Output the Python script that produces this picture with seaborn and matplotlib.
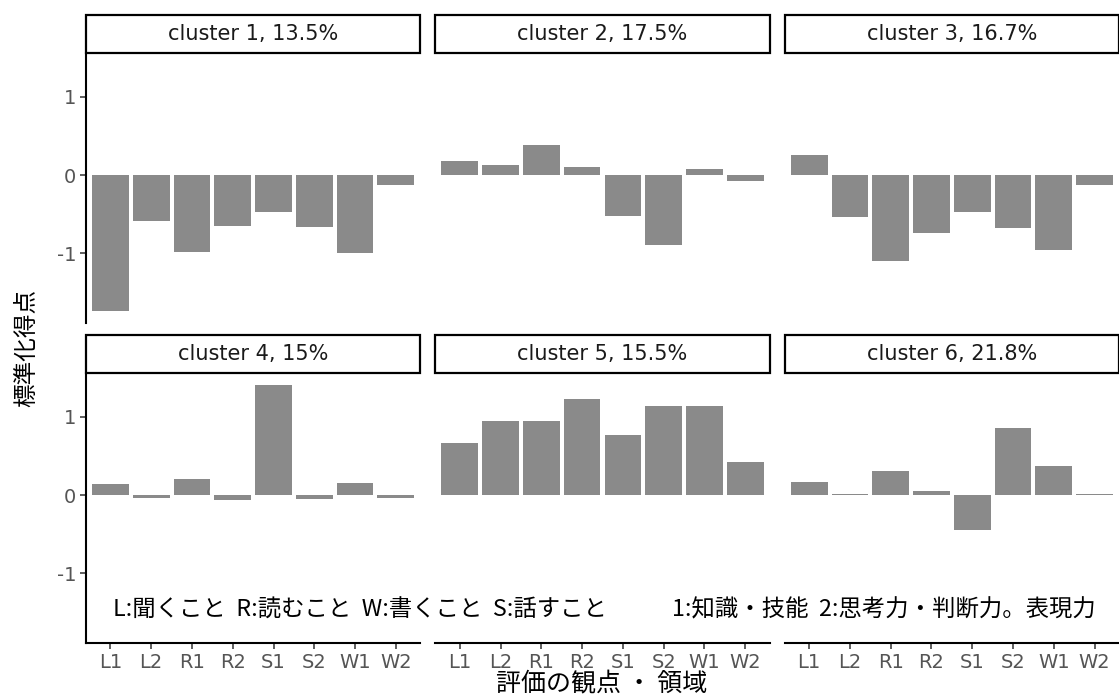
import matplotlib
matplotlib.use("Agg")
import matplotlib.pyplot as plt
from matplotlib.patches import Rectangle
import pandas as pd
import seaborn as sns

# Assessment items (skill area + viewpoint)
items = ["L1", "L2", "R1", "R2", "S1", "S2", "W1", "W2"]

# Cluster facet labels (cluster number, share of students)
cluster_labels = [
    "cluster 1, 13.5%", "cluster 2, 17.5%", "cluster 3, 16.7%",
    "cluster 4, 15%", "cluster 5, 15.5%", "cluster 6, 21.8%",
]

# Standardized mean score of each cluster per item
cluster1 = [-1.73, -0.58, -0.98, -0.65, -0.47, -0.66, -1.00, -0.13]
cluster2 = [0.18, 0.13, 0.38, 0.10, -0.52, -0.89, 0.08, -0.08]
cluster3 = [0.25, -0.53, -1.09, -0.74, -0.47, -0.67, -0.96, -0.13]
cluster4 = [0.14, -0.04, 0.21, -0.06, 1.40, -0.05, 0.15, -0.04]
cluster5 = [0.67, 0.95, 0.95, 1.23, 0.77, 1.14, 1.14, 0.42]
cluster6 = [0.17, 0.01, 0.31, 0.05, -0.45, 0.86, 0.37, 0.01]

y_ticks = [-1, 0, 1]

legend_areas = "L:聞くこと  R:読むこと  W:書くこと  S:話すこと"
legend_views = "1:知識・技能  2:思考力・判断力。表現力"
x_title = "評価の観点 ・ 領域"
y_title = "標準化得点"

series = [cluster1, cluster2, cluster3, cluster4, cluster5, cluster6]
rows = []
for label, vals in zip(cluster_labels, series):
    for it, v in zip(items, vals):
        rows.append({"cluster": label, "item": it, "score": v})
df = pd.DataFrame(rows)

sns.set_style("white")
plt.rcParams["font.family"] = ["DejaVu Sans", "Noto Sans CJK JP"]
JP = ["Noto Sans CJK JP", "DejaVu Sans"]

g = sns.catplot(
    data=df, x="item", y="score", col="cluster", col_wrap=3,
    col_order=cluster_labels, order=items, kind="bar",
    color="#8a8a8a", saturation=1, width=0.9, errorbar=None,
    height=3, aspect=1.2, sharex=True, sharey=True,
)
fig = g.figure
fig.set_size_inches(11.19, 7.0)
fig.subplots_adjust(left=86 / 1119, right=1.0, top=1 - 53 / 700,
                    bottom=1 - 643 / 700, wspace=0.045, hspace=0.185)
g.set_titles("")
g.set_axis_labels("", "")

axes = g.axes.flatten()
vals_all = [v for s in series for v in s]
lo, hi = min(vals_all), max(vals_all)
pad = 0.05 * (hi - lo)
for i, ax in enumerate(axes):
    row, col = divmod(i, 3)
    ax.set_ylim(lo - pad, hi + pad)
    ax.set_xlim(-0.6, len(items) - 0.4)
    ax.set_yticks(y_ticks)
    ax.set_yticklabels([str(t) for t in y_ticks])
    for p in ax.patches:
        p.set_edgecolor("none")
    for s in ["top", "right"]:
        ax.spines[s].set_visible(False)
    ax.spines["left"].set_visible(col == 0)
    ax.spines["bottom"].set_visible(row == 1)
    for s in ["left", "bottom"]:
        ax.spines[s].set_linewidth(1.5)
        ax.spines[s].set_color("black")
    ax.tick_params(axis="y", left=(col == 0), labelleft=(col == 0),
                   length=4, width=1.1, color="#333333",
                   labelsize=14, labelcolor="#555555", pad=3)
    ax.tick_params(axis="x", bottom=(row == 1), labelbottom=(row == 1),
                   length=4, width=1.1, color="#333333",
                   labelsize=14, labelcolor="#555555", pad=3)
    # facet strip
    h = 38 / 269
    ax.add_patch(Rectangle((0, 1), 1, h, transform=ax.transAxes,
                           clip_on=False, facecolor="white",
                           edgecolor="black", linewidth=1.6, zorder=5))
    ax.text(0.5, 1 + h / 2, cluster_labels[i], transform=ax.transAxes,
            ha="center", va="center", fontsize=15, color="#1a1a1a",
            zorder=6)

fig.text(113 / 1119, 1 - 610 / 700, legend_areas, ha="left", va="center",
         fontsize=16.8, family=JP, color="black")
fig.text(672 / 1119, 1 - 610 / 700, legend_views, ha="left", va="center",
         fontsize=16.8, family=JP, color="black")
fig.text(602 / 1119, 1 - 684 / 700, x_title, ha="center", va="center",
         fontsize=18, family=JP, color="black")
fig.text(27 / 1119, 1 - 348 / 700, y_title, ha="center", va="center",
         rotation=90, fontsize=17, family=JP, color="black")

fig.savefig("out.png", dpi=100, facecolor="white")
